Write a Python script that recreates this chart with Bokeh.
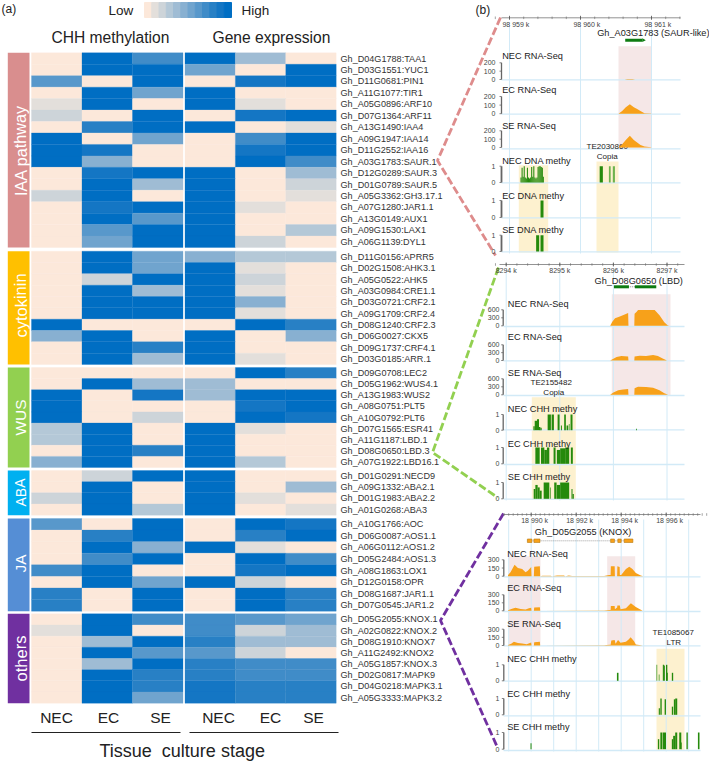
from bokeh.plotting import figure
from bokeh.models import Range1d
from bokeh.core.properties import value
from bokeh.embed import file_html
from bokeh.resources import INLINE

# ---------- heat-map data (colour step 0..11) ----------
STAGES = ["NEC", "EC", "SE"]
PALETTE = ["#FCE8DA", "#E3DFDB", "#CDD4D9", "#B4C8D7", "#9FBCD4", "#88B0D1",
           "#70A4CE", "#5898CB", "#408CC8", "#2880C5", "#1476C4", "#006EC3"]

IAA_GENES = ["Gh_D04G1788:TAA1", "Gh_D03G1551:YUC1", "Gh_D11G0681:PIN1", "Gh_A11G1077:TIR1", "Gh_A05G0896:ARF10",
             "Gh_D07G1364:ARF11", "Gh_A13G1490:IAA4", "Gh_A09G1947:IAA14", "Gh_D11G2552:IAA16", "Gh_A03G1783:SAUR.1",
             "Gh_D12G0289:SAUR.3", "Gh_D01G0789:SAUR.5", "Gh_A05G3362:GH3.17.1", "Gh_A07G1280:JAR1.1",
             "Gh_A13G0149:AUX1", "Gh_A09G1530:LAX1", "Gh_A06G1139:DYL1"]
IAA_VALUES = [[0, 11, 8, 11, 4, 0], [0, 11, 11, 6, 0, 11], [7, 0, 11, 0, 10, 11], [0, 11, 6, 11, 0, 0],
              [1, 11, 0, 11, 1, 0], [2, 0, 11, 0, 10, 11], [0, 9, 11, 11, 0, 1], [11, 0, 6, 0, 8, 11],
              [11, 10, 0, 0, 10, 11], [11, 5, 0, 0, 11, 8], [0, 10, 11, 11, 0, 4], [0, 11, 4, 11, 0, 2],
              [2, 11, 0, 11, 0, 1], [0, 10, 11, 11, 1, 0], [0, 11, 7, 11, 0, 0], [0, 7, 11, 11, 0, 3],
              [0, 6, 11, 11, 2, 0]]

CYT_GENES = ["Gh_D11G0156:APRR5", "Gh_D02G1508:AHK3.1", "Gh_A05G0522:AHK5", "Gh_A03G0984:CRE1.1", "Gh_D03G0721:CRF2.1",
             "Gh_A09G1709:CRF2.4", "Gh_D08G1240:CRF2.3", "Gh_D06G0027:CKX5", "Gh_D09G1737:CRF4.1", "Gh_D03G0185:ARR.1"]
CYT_VALUES = [[0, 11, 6, 5, 3, 3], [0, 11, 6, 11, 1, 0], [0, 2, 11, 11, 2, 0], [0, 11, 4, 11, 1, 0],
              [0, 11, 11, 11, 5, 0], [0, 11, 11, 11, 1, 0], [11, 0, 0, 0, 11, 9], [5, 11, 0, 11, 0, 5],
              [0, 11, 9, 11, 0, 0], [0, 11, 4, 11, 1, 0]]

WUS_GENES = ["Gh_D09G0708:LEC2", "Gh_D05G1962:WUS4.1", "Gh_A13G1983:WUS2", "Gh_A08G0751:PLT5", "Gh_A10G0792:PLT6",
             "Gh_D07G1565:ESR41", "Gh_A11G1187:LBD.1", "Gh_D08G0650:LBD.3", "Gh_A07G1922:LBD16.1"]
WUS_VALUES = [[0, 0, 0, 0, 11, 9], [0, 11, 4, 4, 0, 0], [11, 0, 10, 4, 11, 11], [11, 0, 0, 0, 10, 11],
              [11, 0, 2, 0, 11, 10], [3, 11, 0, 11, 1, 0], [3, 11, 0, 11, 0, 0], [0, 11, 9, 11, 0, 0],
              [5, 11, 0, 11, 3, 0]]

ABA_GENES = ["Gh_D01G0291:NECD9", "Gh_A09G1332:ABA2.1", "Gh_D01G1983:ABA2.2", "Gh_A01G0268:ABA3"]
ABA_VALUES = [[0, 2, 11, 11, 0, 0], [0, 11, 0, 11, 0, 4], [2, 11, 0, 11, 1, 0], [0, 11, 3, 11, 0, 1]]

JA_GENES = ["Gh_A10G1766:AOC", "Gh_D06G0087:AOS1.1", "Gh_A06G0112:AOS1.2", "Gh_D05G2484:AOS1.3", "Gh_A08G1863:LOX1",
            "Gh_D12G0158:OPR", "Gh_D08G1687:JAR1.1", "Gh_D07G0545:JAR1.2"]
JA_VALUES = [[7, 0, 11, 0, 11, 10], [0, 9, 11, 0, 9, 11], [0, 11, 5, 11, 1, 0], [0, 8, 11, 0, 11, 8],
             [8, 11, 0, 0, 10, 11], [0, 11, 6, 11, 2, 0], [9, 0, 11, 0, 11, 9], [9, 0, 11, 0, 11, 9]]

OTH_GENES = ["Gh_D05G2055:KNOX.1", "Gh_A02G0822:KNOX.2", "Gh_D08G1910:KNOX7", "Gh_A11G2492:KNOX2", "Gh_A05G1857:KNOX.3",
             "Gh_D02G0817:MAPK9", "Gh_D04G0218:MAPK3.1", "Gh_A05G3333:MAPK3.2"]
OTH_VALUES = [[0, 11, 8, 8, 7, 6], [1, 11, 0, 8, 2, 4], [0, 4, 11, 9, 4, 4], [0, 11, 7, 7, 2, 0],
              [0, 4, 11, 9, 8, 8], [0, 11, 9, 9, 8, 8], [0, 11, 9, 10, 9, 9], [0, 11, 6, 10, 9, 9]]

# ---------- browser-track data ----------
# Panel 1, kb offset from 98 959 k
P1_TICKS = [0, 1, 2]
P1_TICK_LABELS = ["98 959 k", "98 960 k", "98 961 k"]
P1_NEC_POS = [1.62, 1.66, 1.73, 1.77]
P1_NEC_VAL = [0, 5, 5, 0]
P1_EC_POS = [1.535, 1.587, 1.638, 1.695, 1.751, 1.798, 1.845, 1.901, 1.995]
P1_EC_VAL = [0, 30, 75, 110, 75, 55, 30, 6, 2]
P1_SE_POS = [1.535, 1.587, 1.638, 1.695, 1.751, 1.798, 1.845, 1.901, 1.995]
P1_SE_VAL = [0, 40, 90, 140, 90, 60, 30, 12, 2]
P1_NEC_M_L = [0.155, 0.17, 0.185, 0.2, 0.215, 0.23, 0.245, 0.26, 0.275, 0.29, 0.305, 0.32, 0.335, 0.35, 0.365, 0.38,
              0.395, 0.41, 0.425, 0.44, 0.455, 0.47]
P1_NEC_M_V = [0.3, 0.9, 0.35, 1, 0.3, 0.25, 0.9, 0.3, 0.25, 0.3, 0.95, 0.35, 1, 0.3, 0.25, 0.3, 0.95, 1, 1, 0.95, 0.9, 0.35]
P1_NEC_M_R = [0.17, 0.185, 0.2, 0.215, 0.23, 0.245, 0.26, 0.275, 0.29, 0.305, 0.32, 0.335, 0.35, 0.365, 0.38, 0.395,
              0.41, 0.425, 0.44, 0.455, 0.47, 0.484]
P1_NEC_M2_L = [1.27]
P1_NEC_M2_R = [1.315]
P1_NEC_M2_V = [1]
P1_NEC_LT_L = [1.4, 1.455]
P1_NEC_LT_R = [1.425, 1.485]
P1_NEC_LT_V = [1, 1]
P1_EC_M_L = [0.437]
P1_EC_M_R = [0.479]
P1_EC_M_V = [1]
P1_SE_M_L = [0.375, 0.437]
P1_SE_M_R = [0.418, 0.479]
P1_SE_M_V = [1, 1]

# Panel 2, kb offset from 8294 k
P2_TICKS = [0, 1, 2, 3]
P2_TICK_LABELS = ["8294 k", "8295 k", "8296 k", "8297 k"]
P2_NEC_POS = [1.94, 1.98, 2.03, 2.12, 2.21, 2.275, 2.281, 2.39, 2.395, 2.43, 2.46, 2.77, 2.86, 2.95, 3.01, 3.04]
P2_NEC_VAL = [0, 150, 280, 350, 420, 480, 0, 0, 450, 520, 590, 590, 400, 130, 20, 0]
P2_EC_POS = [1.94, 2.0, 2.06, 2.15, 2.275, 2.281, 2.39, 2.395, 2.49, 2.61, 2.74, 2.83, 2.92, 3.0]
P2_EC_VAL = [0, 70, 130, 170, 150, 0, 0, 150, 180, 170, 210, 170, 80, 0]
P2_SE_POS = [1.94, 2.0, 2.09, 2.18, 2.275, 2.281, 2.39, 2.395, 2.46, 2.61, 2.74, 2.86, 2.95, 3.02]
P2_SE_VAL = [0, 90, 170, 200, 220, 0, 0, 250, 300, 290, 260, 170, 60, 0]
P2_NEC_M_L = [0.507, 0.532, 0.575, 0.612, 0.637, 0.773, 0.847, 0.959, 1.021, 1.082, 1.126, 1.169, 1.2, 2.425]
P2_NEC_M_R = [0.532, 0.575, 0.612, 0.637, 0.662, 0.834, 0.89, 0.996, 1.039, 1.113, 1.157, 1.181, 1.237, 2.44]
P2_NEC_M_V = [0.25, 0.6, 0.7, 0.2, 0.15, 1, 1, 1, 0.3, 1, 0.3, 0.4, 1, 0.1]
P2_EC_M_L = [0.544, 0.649, 0.711, 0.76, 0.884, 0.945, 1.007, 1.1, 1.206]
P2_EC_M_R = [0.625, 0.711, 0.76, 0.804, 0.921, 1.007, 1.1, 1.175, 1.243]
P2_EC_M_V = [1, 1, 0.85, 1, 1, 0.85, 0.95, 1, 1]
P2_SE_M_L = [0.513, 0.544, 0.587, 0.625, 0.699, 0.823, 0.896, 0.945, 1.007, 1.218, 1.237]
P2_SE_M_R = [0.544, 0.587, 0.625, 0.662, 0.804, 0.835, 0.94, 1.007, 1.175, 1.237, 1.262]
P2_SE_M_V = [0.6, 0.85, 0.7, 0.5, 1, 0.7, 1, 0.85, 1, 0.6, 0.3]

# Panel 3, kb offset from 18 990 k
P3_TICKS = [0, 2, 4, 6]
P3_TICK_LABELS = ["18 990 k", "18 992 k", "18 994 k", "18 996 k"]
P3_GRID = [-1, 0, 1, 2, 3, 4, 5, 6, 7]
P3_NEC_POS = [-1.03, -0.92, -0.74, -0.59, -0.4, -0.25, -0.15, 0.0, 0.015, 0.118, 0.133, 0.385, 0.4, 0.5, 0.86, 0.93,
              1.15, 1.45, 1.52, 1.67, 1.82, 3.24, 3.46, 3.53, 3.54, 3.71, 3.72, 3.82, 3.83, 3.93, 3.94, 4.0, 4.21, 4.36,
              4.5, 4.65, 4.87, 4.95]
P3_NEC_VAL = [20, 70, 210, 150, 130, 70, 100, 170, 0, 0, 175, 180, 0, 10, 10, 0, 12, 15, 0, 15, 5, 5, 20, 20, 180, 180,
              0, 0, 180, 170, 20, 20, 130, 175, 130, 60, 15, 5]
P3_EC_POS = [-1.03, -0.85, -0.7, -0.47, -0.25, -0.1, 0.0, 0.015, 0.118, 0.133, 0.385, 0.4, 3.24, 3.46, 3.53, 3.54,
             3.71, 3.72, 3.82, 3.83, 3.94, 3.97, 4.21, 4.33, 4.43, 4.65, 4.95]
P3_EC_VAL = [10, 40, 55, 35, 25, 50, 55, 0, 0, 60, 65, 0, 5, 15, 15, 90, 90, 30, 60, 100, 100, 30, 50, 100, 140, 70, 0]
P3_SE_POS = [-1.03, -0.89, -0.77, -0.59, -0.4, -0.2, 0.0, 0.015, 0.118, 0.133, 0.385, 0.4, 3.24, 3.46, 3.53, 3.56,
             3.71, 3.75, 3.86, 3.97, 4.21, 4.33, 4.42, 4.57, 4.65, 4.95]
P3_SE_VAL = [10, 30, 70, 45, 35, 25, 55, 0, 0, 60, 70, 0, 5, 15, 15, 90, 100, 30, 100, 50, 70, 110, 150, 80, 20, 0]
P3_NEC_M_L = [3.81, 5.57, 5.67, 5.85, 5.9, 5.99, 6.01, 6.25]
P3_NEC_M_R = [3.88, 5.6, 5.7, 5.9, 5.94, 6.05, 6.07, 6.31]
P3_NEC_M_V = [0.5, 1, 0.4, 1, 0.95, 1, 0.5, 0.5]
P3_EC_M_L = [5.67, 5.74, 5.93, 6.25, 6.34, 6.4]
P3_EC_M_R = [5.72, 5.8, 5.99, 6.31, 6.4, 6.49]
P3_EC_M_V = [0.4, 1, 0.95, 0.5, 0.95, 1]
P3_SE_M_L = [-0.03, 5.63, 5.74, 5.85, 6.25, 6.31, 6.4, 6.58, 6.67, 6.9, 7.41]
P3_SE_M_R = [0.015, 5.69, 5.83, 5.99, 6.31, 6.4, 6.49, 6.67, 6.7, 6.96, 7.48]
P3_SE_M_V = [0.35, 0.6, 1, 1, 0.6, 0.8, 1, 1, 0.4, 1, 1]

# ---------- drawing ----------
W, H = 709, 762
FONT = value("Liberation Sans")
TITLE_SIZE = 9.2
TE_SIZE = 8
p = figure(width=W, height=H, x_range=Range1d(0, W), y_range=Range1d(H, 0), x_axis_type=None, y_axis_type=None,
           toolbar_location=None, output_backend="svg", min_border=0, outline_line_color=None)
p.grid.visible = False
p.background_fill_color = "white"

_n = [0]
def xr(a, pa, b, pb):
    k = (b - a) / (pb - pa)
    _n[0] += 1
    name = f"x{_n[0]}"
    p.extra_x_ranges[name] = Range1d(a - pa * k, a + (W - pa) * k)
    return name

def yr(a, pa, b, pb):
    k = (b - a) / (pb - pa)
    _n[0] += 1
    name = f"y{_n[0]}"
    p.extra_y_ranges[name] = Range1d(a + (H - pa) * k, a - pa * k)
    return name

def txt(x, y, s, size, color="#222222", align="left", angle=0, xname="default", yname="default", baseline="middle"):
    p.text([x], [y], text=[s], text_font=FONT, text_font_size=value(f"{size}px"), text_color=color, text_align=align,
           text_baseline=baseline, angle=angle, x_range_name=xname, y_range_name=yname)

# legend
lx = xr(0, 144, 12, 231)
ly = yr(0, 17, 1, 2)
p.quad(left=list(range(12)), right=[i + 1 for i in range(12)], bottom=[0] * 12, top=[1] * 12,
       fill_color=PALETTE, line_color=PALETTE, x_range_name=lx, y_range_name=ly)
txt(1, 8.5, "(a)", 12)
txt(108, 9.5, "Low", 13.5)
txt(241, 9.5, "High", 13.5)
txt(51, 36.5, "CHH methylation", 15.6)
txt(212, 36.5, "Gene expression", 15.6)

GROUPS = [("IAA pathway", IAA_GENES, IAA_VALUES, 52.3, 247, "#D98E8E", 16.2, 150),
          ("cytokinin", CYT_GENES, CYT_VALUES, 250.7, 364, "#FFC000", 16.5, 305),
          ("WUS", WUS_GENES, WUS_VALUES, 367, 467, "#92D050", 15.5, 417),
          ("ABA", ABA_GENES, ABA_VALUES, 470, 514.7, "#00B0F0", 14, 492),
          ("JA", JA_GENES, JA_VALUES, 518, 610.7, "#558ED5", 15.5, 563),
          ("others", OTH_GENES, OTH_VALUES, 613.3, 702.7, "#7030A0", 16.5, 658)]
hm_l = xr(0, 31, 3, 182.5)
hm_r = xr(0, 184.5, 3, 335.7)
for label, genes, vals, top, bot, col, fs, ly_mid in GROUPS:
    n = len(genes)
    gy = yr(0, top, n, bot)
    p.quad(left=[0], right=[1], bottom=[0], top=[n], fill_color=col, line_color=None,
           x_range_name=xr(0, 7.3, 1, 29), y_range_name=gy)
    txt(20, ly_mid, label, fs, color="white", align="center", angle=1.5708)
    for i, row in enumerate(vals):
        colors = [PALETTE[v] for v in row]
        p.quad(left=[0, 1, 2], right=[1, 2, 3], bottom=[i] * 3, top=[i + 1] * 3, fill_color=colors[:3],
               line_color=colors[:3], line_width=0.3, x_range_name=hm_l, y_range_name=gy)
        p.quad(left=[0, 1, 2], right=[1, 2, 3], bottom=[i] * 3, top=[i + 1] * 3, fill_color=colors[3:],
               line_color=colors[3:], line_width=0.3, x_range_name=hm_r, y_range_name=gy)
        txt(340, i + 0.5, genes[i], 9.1, color="#333333", yname=gy)

for cx, s in zip([56, 108, 160, 218, 270, 313], STAGES * 2):
    txt(cx, 717, s, 15.5, align="center")
p.segment(x0=[31, 189], y0=[732, 732], x1=[180, 338], y1=[732, 732], line_color="#222222", line_width=1.2)
txt(99, 750, "Tissue\u00a0\u00a0culture stage", 18)

# connectors
for xs, ys, c in [([500, 437, 495], [17, 160, 255], "#DE8C8C"),
                  ([498, 432, 497], [267, 452, 497], "#92D050"),
                  ([503, 440, 497], [513, 620, 747], "#7030A0")]:
    p.line(xs, ys, line_color=c, line_width=2.8, line_dash="8 3")
txt(475, 9, "(b)", 12)

ORANGE = "#F7A11A"
GREEN = "#258A0C"
LGREEN = "#6DB24E"
GRID = "#D2EAF7"
PINK = "#F5E7E7"
YELLOW = "#FDF1CF"

def shade(x0, x1, y0, y1, c):
    p.quad(left=[x0], right=[x1], top=[y0], bottom=[y1], fill_color=c, line_color=None)

def ruler(gx, ticks, labels, left, right, y, grid_ticks, grid_bot, minor, label_dx=0):
    p.segment(x0=grid_ticks, x1=grid_ticks, y0=[y + 5] * len(grid_ticks), y1=[grid_bot] * len(grid_ticks),
              line_color=GRID, line_width=1, x_range_name=gx)
    p.segment(x0=[left], x1=[right], y0=[y], y1=[y], line_color="#777777", line_width=0.8)
    p.segment(x0=minor, x1=minor, y0=[y - 1.3] * len(minor), y1=[y + 1.3] * len(minor), line_color="#666666",
              line_width=0.6, x_range_name=gx)
    p.segment(x0=ticks, x1=ticks, y0=[y - 2] * len(ticks), y1=[y + 2] * len(ticks), line_color="#555555",
              line_width=0.8, x_range_name=gx)
    for t, s in zip(ticks, labels):
        txt(t + label_dx, y + 6.2, s, 7, color="#444444", align="center", xname=gx)

def track(gx, base, top, vmax, ticks, xb, xl, title, tx, ty, series=None, bars=None, thick=1.3):
    gy = yr(0, base, vmax, top)
    if series is not None:
        p.varea(x=series[0], y1=[0] * len(series[0]), y2=series[1], fill_color=ORANGE, x_range_name=gx, y_range_name=gy)
    for l, r, v, c in (bars or []):
        p.quad(left=l, right=r, bottom=[0] * len(l), top=v, fill_color=c, line_color=None, x_range_name=gx, y_range_name=gy)
    p.segment(x0=[xb], x1=[xb], y0=[0], y1=[vmax], line_color="#666666", line_width=thick, y_range_name=gy)
    p.segment(x0=[xb - 2] * len(ticks), x1=[xb] * len(ticks), y0=ticks, y1=ticks, line_color="#666666", line_width=0.8,
              y_range_name=gy)
    for t in ticks:
        txt(xl, t, str(t), 7, color="#444444", align="right", yname=gy)
    txt(tx, ty, title, TITLE_SIZE)

def baselines(x0, x1, ys):
    p.segment(x0=[x0] * len(ys), x1=[x1] * len(ys), y0=ys, y1=ys, line_color=GRID, line_width=1.3)

# ---- panel 1 ----
g1 = xr(0, 509, 1, 580)
shade(618, 650.7, 45.7, 148, PINK)
shade(518.3, 547.7, 164.7, 252, YELLOW)
shade(596, 618, 161, 252, YELLOW)
ruler(g1, P1_TICKS, P1_TICK_LABELS, 501, 680, 17.3, P1_TICKS, 253,
      [i / 5 for i in range(-1, 13)], label_dx=0.09)
baselines(501, 680, [79.3, 113.7, 148.3, 182.3, 217.3, 251.3])
txt(596.7, 32, "Gh_A03G1783 (SAUR-like)", TITLE_SIZE)
p.quad(left=[1.63], right=[1.87], top=[38.2], bottom=[41.2], fill_color="#0E7C12", line_color=None, x_range_name=g1)
p.patch([1.87, 1.92, 1.87], [37.8, 39.7, 41.6], fill_color="#0E7C12", line_color=None, x_range_name=g1)
txt(606.7, 146, "TE2030860", TE_SIZE, align="center")
txt(606.7, 155.7, "Copia", TE_SIZE, align="center")
tk = [0, 100, 200]
track(g1, 79, 62.3, 200, tk, 501, 495, "NEC RNA-Seq", 501.7, 55.7, (P1_NEC_POS, P1_NEC_VAL))
track(g1, 113.2, 96, 200, tk, 501, 495, "EC RNA-Seq", 501.7, 89, (P1_EC_POS, P1_EC_VAL))
track(g1, 147, 130.3, 200, tk, 501, 495, "SE RNA-Seq", 501.7, 125.7, (P1_SE_POS, P1_SE_VAL))
track(g1, 182, 165.7, 1, [0, 1], 501, 495, "NEC DNA methy", 501.7, 160.7,
      bars=[(P1_NEC_M_L, P1_NEC_M_R, P1_NEC_M_V, GREEN), (P1_NEC_M2_L, P1_NEC_M2_R, P1_NEC_M2_V, GREEN),
            (P1_NEC_LT_L, P1_NEC_LT_R, P1_NEC_LT_V, LGREEN)], thick=1.8)
track(g1, 217, 200, 1, [0, 1], 501, 495, "EC DNA methy", 501.7, 195, bars=[(P1_EC_M_L, P1_EC_M_R, P1_EC_M_V, GREEN)], thick=1.8)
track(g1, 251, 234.7, 1, [0, 1], 501, 495, "SE DNA methy", 501.7, 229, bars=[(P1_SE_M_L, P1_SE_M_R, P1_SE_M_V, GREEN)], thick=1.8)

# ---- panel 2 ----
g2 = xr(0, 505.7, 1, 559.3)
shade(611.3, 670, 293.7, 395, PINK)
shade(531.3, 575.3, 396.7, 499.3, YELLOW)
ruler(g2, P2_TICKS, P2_TICK_LABELS, 499, 684, 264, P2_TICKS, 500,
      [i / 5 for i in range(-1, 17)], label_dx=0)
baselines(503, 684, [326, 360.3, 395, 429.3, 464, 498.7])
txt(594, 280.7, "Gh_D08G0650 (LBD)", TITLE_SIZE)
p.segment(x0=[2.015], x1=[2.5], y0=[286.3], y1=[286.3], line_color="#666666", line_width=0.8, line_dash="1 1", x_range_name=g2)
p.quad(left=[2.01, 2.4], right=[2.29, 2.8], top=[284.8, 284.8], bottom=[287.8, 287.8], fill_color="#0E7C12", line_color=None, x_range_name=g2)
txt(550.7, 382 / 3 + 255, "TE2155482", TE_SIZE, align="center")
txt(553.3, 410 / 3 + 255, "Copia", TE_SIZE, align="center")
tk = [0, 300, 600]
track(g2, 325.3, 309.3, 600, tk, 502.7, 499, "NEC RNA-Seq", 507.3, 303, (P2_NEC_POS, P2_NEC_VAL))
track(g2, 360, 344.3, 600, tk, 502.7, 499, "EC RNA-Seq", 507.3, 336.3, (P2_EC_POS, P2_EC_VAL))
track(g2, 394.3, 378.3, 600, tk, 502.7, 499, "SE RNA-Seq", 507.3, 372.3, (P2_SE_POS, P2_SE_VAL))
track(g2, 429.7, 414, 1, [0, 1], 502.7, 499, "NEC CHH methy", 507.3, 408.3, bars=[(P2_NEC_M_L, P2_NEC_M_R, P2_NEC_M_V, GREEN)])
track(g2, 463.3, 447, 1, [0, 1], 502.7, 499, "EC CHH methy", 507.3, 443, bars=[(P2_EC_M_L, P2_EC_M_R, P2_EC_M_V, GREEN)])
track(g2, 498.3, 482, 1, [0, 1], 502.7, 499, "SE CHH methy", 507.3, 476.3, bars=[(P2_SE_M_L, P2_SE_M_R, P2_SE_M_V, GREEN)])

# ---- panel 3 ----
g3 = xr(0, 530.7, 1, 553.2)
shade(508.3, 540, 555.7, 644.3, PINK)
shade(606.7, 634.7, 555.7, 644.3, PINK)
shade(656, 684, 648.3, 750, YELLOW)
ruler(g3, P3_TICKS, P3_TICK_LABELS, 503, 700, 514, P3_GRID, 751,
      [i / 5 for i in range(-5 * 1 - 1, 7 * 5 + 8)], label_dx=0.15)
baselines(503, 700, [576.3, 611, 645.3, 680.7, 715.3, 750])
txt(534.3, 531.7, "Gh_D05G2055 (KNOX)", TITLE_SIZE)
p.segment(x0=[-0.17], x1=[4.47], y0=[540.3], y1=[540.3], line_color="#888888", line_width=0.8, line_dash="1 1", x_range_name=g3)
p.quad(left=[-0.17, 0.12, 3.53, 3.85, 4.13], right=[0.03, 0.39, 3.7, 4.0, 4.52], top=[538.5] * 5, bottom=[542] * 5,
       fill_color=ORANGE, line_color="#B97A10", line_width=0.6, x_range_name=g3)
txt(672.7, 382 / 3 + 505, "TE1085067", TE_SIZE, align="center")
txt(673.3, 410 / 3 + 505, "LTR", TE_SIZE, align="center")
tk = [0, 150, 300]
track(g3, 575.7, 559.3, 300, tk, 503.3, 499, "NEC RNA-Seq", 506.7, 553, (P3_NEC_POS, P3_NEC_VAL))
track(g3, 610.3, 594.3, 300, tk, 503.3, 499, "EC RNA-Seq", 506.7, 587, (P3_EC_POS, P3_EC_VAL))
track(g3, 645, 628.7, 300, tk, 503.3, 499, "SE RNA-Seq", 506.7, 623.7, (P3_SE_POS, P3_SE_VAL))
track(g3, 680.3, 664.3, 1, [0, 1], 503.3, 499, "NEC CHH methy", 506.7, 658.7, bars=[(P3_NEC_M_L, P3_NEC_M_R, P3_NEC_M_V, GREEN)])
track(g3, 714.3, 698, 1, [0, 1], 503.3, 499, "EC CHH methy", 506.7, 693.3, bars=[(P3_EC_M_L, P3_EC_M_R, P3_EC_M_V, GREEN)])
track(g3, 748.7, 732, 1, [0, 1], 503.3, 499, "SE CHH methy", 506.7, 726.7, bars=[(P3_SE_M_L, P3_SE_M_R, P3_SE_M_V, GREEN)])

open("out.html", "w").write(file_html(p, INLINE))
